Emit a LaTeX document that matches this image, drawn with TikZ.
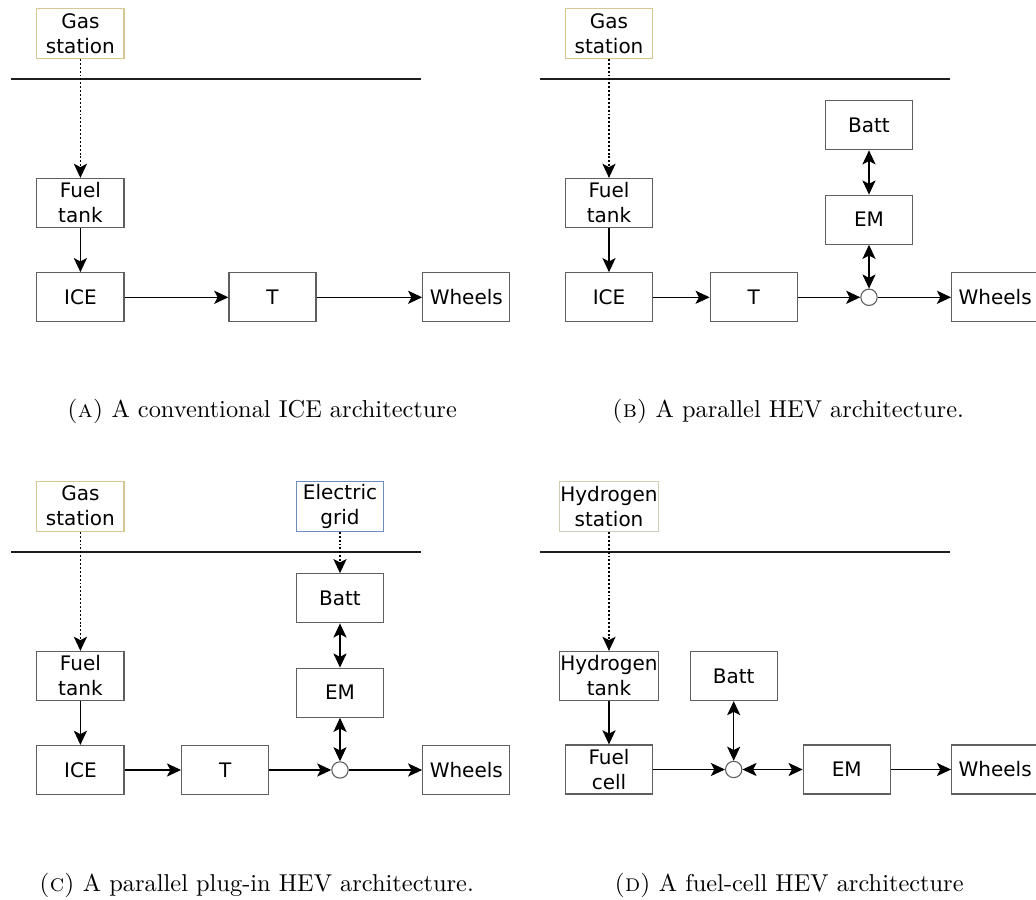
\documentclass[tikz,border=0pt]{standalone}
\usepackage{fontspec}
\newfontfamily\diagfont{DejaVu Sans}
\usepackage{tikz}
\usetikzlibrary{arrows.meta}
\definecolor{boxgray}{RGB}{95,95,95}
\definecolor{gasline}{RGB}{214,198,146}
\definecolor{gridline}{RGB}{108,142,191}
\definecolor{hydline}{RGB}{208,204,182}
\tikzset{
	block/.style={
		draw=boxgray,
		fill=white,
		line width=0.5pt,
		minimum width=35.7pt,
		minimum height=20.1pt,
		inner sep=0.4pt,
		align=center,
		font=\diagfont\fontsize{8.2}{10.25}\selectfont
	},
	source/.style={block, minimum height=20.5pt},
	junction/.style={
		draw=boxgray,
		fill=white,
		circle,
		inner sep=0pt,
		minimum size=6.7pt,
		line width=0.45pt
	},
	tip/.tip={Stealth[length=5.8pt, width=5.4pt, inset=1.4pt]},
	flow/.style={line width=0.45pt, -tip},
	twoway/.style={line width=0.45pt, tip-tip},
	supply/.style={dash pattern=on 0.8pt off 0.8pt},
	border/.style={line width=0.8pt, draw={rgb,255:red,30;green,30;blue,30}},
	caption/.style={font=\fontsize{10}{12}\selectfont}
}

\begin{document}
\begin{tikzpicture}[x=0.41pt, y=-0.41pt]
	\useasboundingbox (0,0) rectangle (1036,900);

	% (a) conventional ICE
	\node[source, draw=gasline] (gasa) at (80.4,33.3) {Gas\\station};
	\node[block] (tanka) at (80.4,203) {Fuel\\tank};
	\node[block] (icea) at (80.4,297.3) {ICE};
	\node[block] (ta) at (272.5,297.3) {T};
	\node[block] (wheelsa) at (466.3,297.3) {Wheels};
	\coordinate (bordera-l) at (11,79);
	\coordinate (bordera-r) at (421,79);
	\draw[border] (bordera-l) -- (bordera-r);

	\begin{scope}[flow]
	\draw[supply] (gasa) -- (tanka);
	\draw (tanka) -- (icea);
	\draw (icea) -- (ta);
	\draw (ta) -- (wheelsa);
	\end{scope}

	% (b) parallel HEV
	\node[source, draw=gasline] (gasb) at (609,33.3) {Gas\\station};
	\node[block] (tankb) at (609,203) {Fuel\\tank};
	\node[block] (iceb) at (609,297.3) {ICE};
	\node[block] (tb) at (753.8,297.3) {T};
	\node[block] (battb) at (869,125.2) {Batt};
	\node[block] (emb) at (869,219.7) {EM};
	\node[junction] (jb) at (869,297.3) {};
	\node[block] (wheelsb) at (995.2,297.3) {Wheels};
	\coordinate (borderb-l) at (539.7,79);
	\coordinate (borderb-r) at (950,79);
	\draw[border] (borderb-l) -- (borderb-r);

	\begin{scope}[flow]
	\draw[supply] (gasb) -- (tankb);
	\draw (tankb) -- (iceb);
	\draw (iceb) -- (tb);
	\draw (tb) -- (jb);
	\draw (jb) -- (wheelsb);
	\end{scope}
	\draw[twoway] (battb) -- (emb);
	\draw[twoway] (emb) -- (jb);

	% (c) parallel plug-in HEV
	\node[source, draw=gasline] (gasc) at (80.4,506.2) {Gas\\station};
	\node[source, draw=gridline] (gridc) at (340,506.2) {Electric\\grid};
	\node[block] (battc) at (340,598.3) {Batt};
	\node[block] (emc) at (340,692.7) {EM};
	\node[block] (tankc) at (80.4,676) {Fuel\\tank};
	\node[block] (icec) at (80.4,770) {ICE};
	\node[block] (tc) at (225.2,770) {T};
	\node[junction] (jc) at (340,770) {};
	\node[block] (wheelsc) at (466.3,770) {Wheels};
	\coordinate (borderc-l) at (11,551.7);
	\coordinate (borderc-r) at (421,551.7);
	\draw[border] (borderc-l) -- (borderc-r);

	\begin{scope}[flow]
	\draw[supply] (gasc) -- (tankc);
	\draw[supply] (gridc) -- (battc);
	\draw (tankc) -- (icec);
	\draw (icec) -- (tc);
	\draw (tc) -- (jc);
	\draw (jc) -- (wheelsc);
	\end{scope}
	\draw[twoway] (battc) -- (emc);
	\draw[twoway] (emc) -- (jc);

	% (d) fuel-cell HEV
	\node[source, draw=hydline] (stationd) at (609,506.5) {Hydrogen\\station};
	\node[block] (tankd) at (609,676) {Hydrogen\\tank};
	\node[block] (celld) at (609,769.5) {Fuel\\cell};
	\node[block] (battd) at (733.7,676) {Batt};
	\node[junction] (jd) at (733.7,769.5) {};
	\node[block] (emd) at (846.8,769.5) {EM};
	\node[block] (wheelsd) at (995.2,769.5) {Wheels};
	\coordinate (borderd-l) at (539.7,551.7);
	\coordinate (borderd-r) at (950,551.7);
	\draw[border] (borderd-l) -- (borderd-r);

	\begin{scope}[flow]
	\draw[supply] (stationd) -- (tankd);
	\draw (tankd) -- (celld);
	\draw (celld) -- (jd);
	\draw (emd) -- (wheelsd);
	\end{scope}
	\draw[twoway] (battd) -- (jd);
	\draw[twoway] (jd) -- (emd);

	% sub-captions
	\begin{scope}[every node/.style={caption}]
	\node (capa) at (262,411) {\textsc{(a)} A conventional ICE architecture};
	\node (capb) at (788,411) {\textsc{(b)} A parallel HEV architecture.};
	\node (capc) at (256.5,885) {\textsc{(c)} A parallel plug-in HEV architecture.};
	\node (capd) at (789,885) {\textsc{(d)} A fuel-cell HEV architecture};
	\end{scope}
\end{tikzpicture}
\end{document}
